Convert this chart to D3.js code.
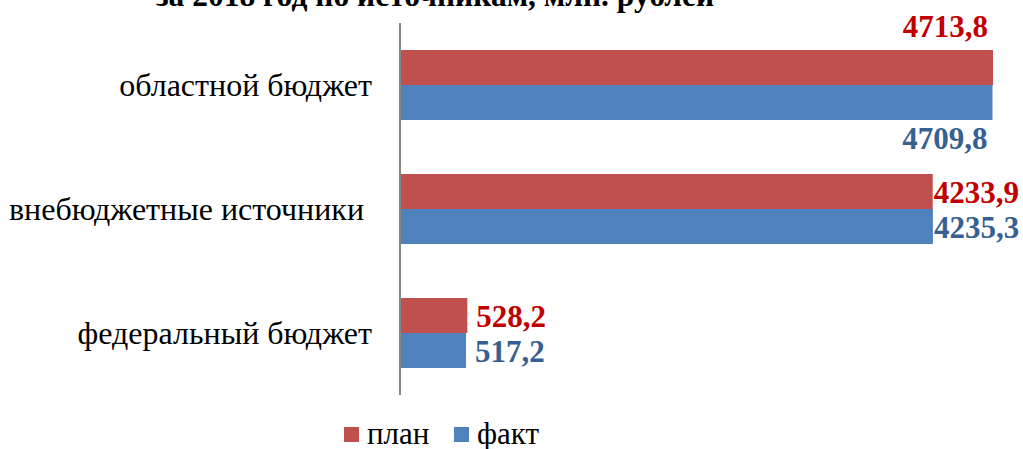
<!DOCTYPE html>
<html>
<head>
<meta charset="utf-8">
<script src="https://cdn.jsdelivr.net/npm/d3@7"></script>
<style>
  body { margin: 0; background: #fff; }
</style>
</head>
<body>
<div id="chart"></div>
<script>
// данные
const categories = ["областной бюджет", "внебюджетные источники ", "федеральный бюджет"]
const series = ["план", "факт"]
const planValues = [4713.8, 4233.9, 528.2]
const factValues = [4709.8, 4235.3, 517.2]
const title = "за 2018 год по источникам, млн. рублей"

const barColors = { "план": "#C0504D", "факт": "#4F81BD" }
const labelColors = { "план": "#C00000", "факт": "#376092" }
const serif = "'Liberation Serif', 'Times New Roman', Times, 'DejaVu Serif', serif"

function fmt(v) { return v.toFixed(1).replace(".", ",") }

function drawChart()
{
    let svg = d3.select("#chart").append("svg")
        .attr("width", 1023)
        .attr("height", 449)
        .attr("font-family", serif)
        .style("font-family", serif)

    let rows = []
    categories.forEach((c, i) => {
        rows.push({ cat: c, idx: i, s: "план", v: planValues[i] })
        rows.push({ cat: c, idx: i, s: "факт", v: factValues[i] })
    })

    let x = d3.scaleLinear().domain([0, 4713.8]).range([401, 993])
    let y0 = d3.scaleBand().domain(categories).range([23, 395]).padding(0)
    let y1 = d3.scaleBand().domain(series).range([27, 97])

    // заголовок (обрезан сверху)
    svg.append("text")
        .attr("x", 435)
        .attr("y", 6)
        .attr("text-anchor", "middle")
        .style("font-family", serif)
        .style("font-size", "31.5px")
        .style("font-weight", "bold")
        .text(title)

    // полосы
    svg.selectAll("rect.bar")
        .data(rows)
        .enter()
        .append("rect")
        .attr("class", "bar")
        .attr("x", x(0))
        .attr("y", d => y0(d.cat) + y1(d.s))
        .attr("width", d => x(d.v) - x(0))
        .attr("height", y1.bandwidth())
        .attr("fill", d => barColors[d.s])

    // ось
    svg.append("line")
        .attr("x1", 400).attr("x2", 400)
        .attr("y1", 23).attr("y2", 395)
        .attr("stroke", "#868686")
        .attr("stroke-width", 2)

    // подписи категорий
    svg.selectAll("text.cat")
        .data(categories)
        .enter()
        .append("text")
        .attr("class", "cat")
        .attr("x", 372)
        .attr("y", d => y0(d) + y0.bandwidth() / 2 + 11)
        .attr("text-anchor", "end")
        .style("white-space", "pre")
        .style("font-family", serif)
        .style("font-size", "32px")
        .attr("fill", "#000")
        .text(d => d)

    // подписи значений
    svg.selectAll("text.val")
        .data(rows)
        .enter()
        .append("text")
        .attr("class", "val")
        .attr("x", d => {
            if (d.idx == 0) return x(d.v) - 5
            if (d.idx == 1) return x(d.v) + 1
            return x(d.v) + 9
        })
        .attr("y", d => {
            let top = y0(d.cat) + y1(d.s)
            if (d.idx == 0 && d.s == "план") return top - 13
            if (d.idx == 0 && d.s == "факт") return top + y1.bandwidth() + 29
            return top + y1.bandwidth() / 2 + 11
        })
        .attr("text-anchor", d => d.idx == 0 ? "end" : "start")
        .style("font-family", serif)
        .style("font-size", "31px")
        .style("font-weight", "bold")
        .attr("fill", d => labelColors[d.s])
        .text(d => fmt(d.v))

    // легенда
    let legX = [344, 454]
    series.forEach((s, i) => {
        svg.append("rect")
            .attr("x", legX[i])
            .attr("y", 427)
            .attr("width", 15)
            .attr("height", 15)
            .attr("fill", barColors[s])
        svg.append("text")
            .attr("x", legX[i] + 23)
            .attr("y", 444)
            .style("font-family", serif)
            .style("font-size", "31px")
            .text(s)
    })
}

drawChart()
</script>
</body>
</html>
